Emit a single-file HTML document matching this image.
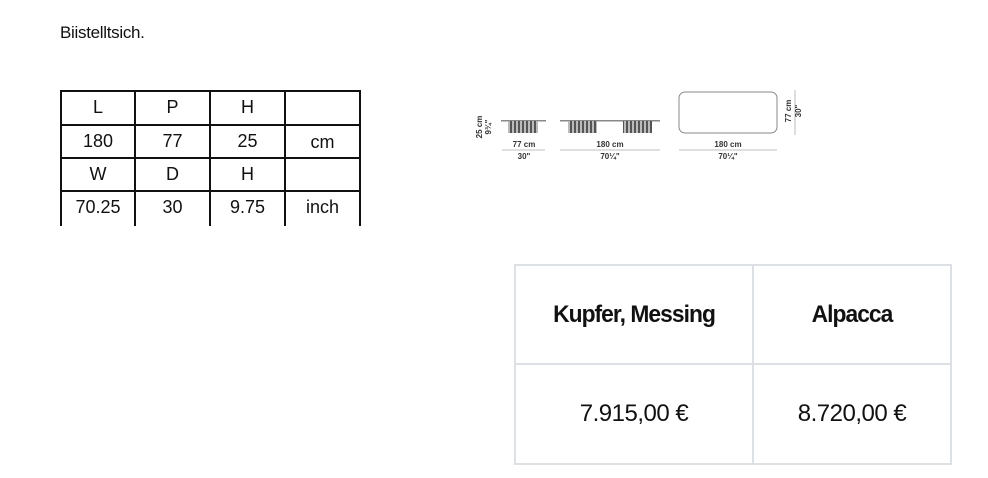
<!DOCTYPE html>
<html><head><style>
body{margin:0;width:988px;height:478px;background:#fff;position:relative;overflow:hidden;font-family:"Liberation Sans",sans-serif;color:#111}
.a{position:absolute}
.t{position:absolute;text-align:center;font-size:18px;line-height:18px}
.l{position:absolute;background:#111}
.g{position:absolute;background:#dde0e4}
</style></head><body>
<div class="a" style="left:60px;top:23px;font-size:17px;letter-spacing:-0.3px">Biistelltsich.</div>

<div class="l" style="left:60px;top:90px;width:301px;height:2px"></div>
<div class="l" style="left:60px;top:124px;width:301px;height:2px"></div>
<div class="l" style="left:60px;top:157px;width:301px;height:2px"></div>
<div class="l" style="left:60px;top:190px;width:301px;height:2px"></div>
<div class="l" style="left:60px;top:90px;width:2px;height:136px"></div>
<div class="l" style="left:134px;top:90px;width:2px;height:136px"></div>
<div class="l" style="left:209px;top:90px;width:2px;height:136px"></div>
<div class="l" style="left:284px;top:90px;width:2px;height:136px"></div>
<div class="l" style="left:359px;top:90px;width:2px;height:136px"></div>
<div class="t" style="left:62px;top:98px;width:72px">L</div>
<div class="t" style="left:136px;top:98px;width:73px">P</div>
<div class="t" style="left:211px;top:98px;width:73px">H</div>
<div class="t" style="left:62px;top:132px;width:72px">180</div>
<div class="t" style="left:136px;top:132px;width:73px">77</div>
<div class="t" style="left:211px;top:132px;width:73px">25</div>
<div class="t" style="left:286px;top:133px;width:73px">cm</div>
<div class="t" style="left:62px;top:165px;width:72px">W</div>
<div class="t" style="left:136px;top:165px;width:73px">D</div>
<div class="t" style="left:211px;top:165px;width:73px">H</div>
<div class="t" style="left:62px;top:198px;width:72px">70.25</div>
<div class="t" style="left:136px;top:198px;width:73px">30</div>
<div class="t" style="left:211px;top:198px;width:73px">9.75</div>
<div class="t" style="left:286px;top:198px;width:73px">inch</div>

<svg class="a" style="left:470px;top:85px" width="340" height="80">
<defs><pattern id="p" width="4" height="10" patternUnits="userSpaceOnUse"><rect width="4" height="10" fill="#bbb"/><rect width="2" height="10" fill="#555"/></pattern></defs>
<g fill="#888"><rect x="31" y="35" width="45" height="1.5"/><rect x="90" y="35" width="100" height="1.5"/></g>
<rect x="38" y="36" width="30" height="12" fill="url(#p)"/>
<rect x="98" y="36" width="29" height="12" fill="url(#p)"/>
<rect x="153" y="36" width="29" height="12" fill="url(#p)"/>
<rect x="209" y="7" width="98" height="41" rx="6" fill="none" stroke="#888" stroke-width="1"/>
<g stroke="#aaa" stroke-width="0.8"><line x1="32" y1="65" x2="75" y2="65"/><line x1="90" y1="65" x2="190" y2="65"/><line x1="209" y1="65" x2="307" y2="65"/><line x1="325" y1="5" x2="325" y2="50"/></g>
<g font-family="Liberation Sans" font-size="8" font-weight="bold" fill="#333" text-anchor="middle">
<text x="54" y="62">77 cm</text><text x="54" y="74">30"</text>
<text x="140" y="62">180 cm</text><text x="140" y="74">70¼"</text>
<text x="258" y="62">180 cm</text><text x="258" y="74">70¼"</text>
<text transform="translate(12,42) rotate(-90)">25 cm</text>
<text transform="translate(21,42) rotate(-90)">9¾"</text>
<text transform="translate(321,26) rotate(-90)">77 cm</text>
<text transform="translate(331,26) rotate(-90)">30"</text>
</g>
</svg>

<div class="g" style="left:514px;top:264px;width:438px;height:2px"></div>
<div class="g" style="left:514px;top:363px;width:438px;height:2px"></div>
<div class="g" style="left:514px;top:463px;width:438px;height:2px"></div>
<div class="g" style="left:514px;top:264px;width:2px;height:201px"></div>
<div class="g" style="left:752px;top:264px;width:2px;height:201px"></div>
<div class="g" style="left:950px;top:264px;width:2px;height:201px"></div>
<div class="t" style="left:516px;top:302px;width:236px;font-size:24px;line-height:26px;letter-spacing:-1px;font-weight:bold;transform:scaleX(0.95)">Kupfer, Messing</div>
<div class="t" style="left:754px;top:302px;width:196px;font-size:24px;line-height:26px;letter-spacing:-1px;font-weight:bold;transform:scaleX(0.95)">Alpacca</div>
<div class="t" style="left:516px;top:401px;width:236px;font-size:24px;line-height:26px;letter-spacing:-0.5px">7.915,00 €</div>
<div class="t" style="left:754px;top:401px;width:196px;font-size:24px;line-height:26px;letter-spacing:-0.5px">8.720,00 €</div>
</body></html>
